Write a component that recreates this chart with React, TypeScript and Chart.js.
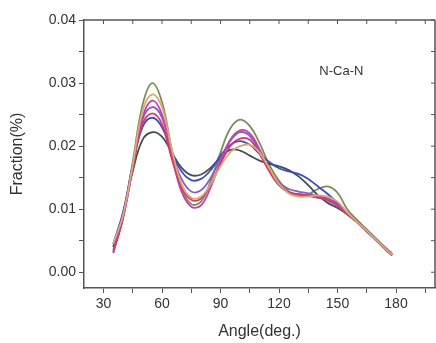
import React, { useEffect, useRef } from "react";
import { Chart, registerables } from "chart.js";

Chart.register(...registerables);

const angles = [35, 40, 45, 50, 55, 60, 65, 70, 75, 80, 85, 90, 95, 100, 105, 110, 115, 120, 125, 130, 135, 140, 145, 150, 155, 160, 165, 170, 175, 178];

const seriesOlive = [0.0040, 0.0090, 0.0175, 0.0265, 0.0300, 0.0270, 0.0195, 0.0135, 0.0108, 0.0112, 0.0145, 0.0190, 0.0228, 0.0242, 0.0232, 0.0205, 0.0170, 0.0145, 0.0128, 0.0122, 0.0124, 0.0132, 0.0136, 0.0126, 0.0100, 0.0083, 0.0068, 0.0053, 0.0038, 0.0030];
const seriesOrange = [0.0045, 0.0090, 0.0170, 0.0255, 0.0282, 0.0262, 0.0195, 0.0140, 0.0118, 0.0120, 0.0140, 0.0168, 0.0190, 0.0200, 0.0202, 0.0190, 0.0165, 0.0140, 0.0125, 0.0120, 0.0120, 0.0122, 0.0120, 0.0112, 0.0095, 0.0080, 0.0066, 0.0051, 0.0036, 0.0028];
const seriesMagenta = [0.0030, 0.0085, 0.0165, 0.0245, 0.0272, 0.0250, 0.0185, 0.0128, 0.0104, 0.0106, 0.0135, 0.0175, 0.0210, 0.0225, 0.0220, 0.0195, 0.0162, 0.0138, 0.0126, 0.0124, 0.0122, 0.0120, 0.0117, 0.0108, 0.0093, 0.0080, 0.0066, 0.0051, 0.0036, 0.0028];
const seriesPurple = [0.0035, 0.0088, 0.0168, 0.0242, 0.0262, 0.0245, 0.0190, 0.0148, 0.0128, 0.0130, 0.0150, 0.0180, 0.0208, 0.0222, 0.0216, 0.0192, 0.0163, 0.0142, 0.0132, 0.0128, 0.0125, 0.0120, 0.0114, 0.0105, 0.0092, 0.0080, 0.0066, 0.0051, 0.0036, 0.0028];
const seriesCrimson = [0.0032, 0.0086, 0.0165, 0.0235, 0.0252, 0.0235, 0.0180, 0.0135, 0.0115, 0.0117, 0.0140, 0.0172, 0.0200, 0.0212, 0.0210, 0.0188, 0.0160, 0.0138, 0.0127, 0.0124, 0.0121, 0.0118, 0.0115, 0.0106, 0.0092, 0.0079, 0.0065, 0.0050, 0.0035, 0.0027];
const seriesBlue = [0.0045, 0.0095, 0.0170, 0.0230, 0.0245, 0.0230, 0.0190, 0.0160, 0.0146, 0.0148, 0.0162, 0.0185, 0.0202, 0.0208, 0.0202, 0.0188, 0.0175, 0.0165, 0.0160, 0.0156, 0.0148, 0.0136, 0.0124, 0.0110, 0.0094, 0.0080, 0.0065, 0.0050, 0.0035, 0.0027];
const seriesSlate = [0.0040, 0.0092, 0.0160, 0.0210, 0.0222, 0.0215, 0.0190, 0.0166, 0.0154, 0.0155, 0.0166, 0.0182, 0.0194, 0.0193, 0.0185, 0.0177, 0.0172, 0.0168, 0.0162, 0.0152, 0.0138, 0.0122, 0.0110, 0.0102, 0.0092, 0.0080, 0.0065, 0.0050, 0.0035, 0.0027];

const seriesList = [
  { values: seriesOrange, color: "#d8aa74" },
  { values: seriesCrimson, color: "#d03c6c" },
  { values: seriesMagenta, color: "#c040b4" },
  { values: seriesPurple, color: "#8c5cc0" },
  { values: seriesBlue, color: "#3e4cbc" },
  { values: seriesSlate, color: "#434e54" },
  { values: seriesOlive, color: "#7e8b58" },
];

const xTickValues = [30, 45, 60, 75, 90, 105, 120, 135, 150, 165, 180, 195];
const yTickValues = [0, 0.005, 0.01, 0.015, 0.02, 0.025, 0.03, 0.035, 0.04];
const annotationText = "N-Ca-N";
const xTitle = "Angle(deg.)";
const yTitle = "Fraction(%)";

const AXIS = "#555";
const TEXT = "#333";
const FONT = "'Liberation Sans', Arial, sans-serif";

const framePlugin = {
  id: "frame",
  afterDraw(chart: any) {
    const { ctx, chartArea } = chart;
    const xs = chart.scales.x;
    const ys = chart.scales.y;
    ctx.save();
    ctx.strokeStyle = AXIS;
    ctx.lineWidth = 1.5;
    ctx.beginPath();
    ctx.moveTo(chartArea.left, chartArea.top);
    ctx.lineTo(chartArea.right, chartArea.top);
    ctx.moveTo(chartArea.right, chartArea.top);
    ctx.lineTo(chartArea.right, chartArea.bottom);
    ctx.stroke();
    ctx.lineWidth = 1;
    ctx.beginPath();
    xTickValues.forEach((v) => {
      const px = xs.getPixelForValue(v);
      ctx.moveTo(px, chartArea.top);
      ctx.lineTo(px, chartArea.top + 4);
    });
    yTickValues.forEach((v) => {
      const py = ys.getPixelForValue(v);
      ctx.moveTo(chartArea.right, py);
      ctx.lineTo(chartArea.right - 4, py);
    });
    ctx.stroke();
    ctx.fillStyle = TEXT;
    ctx.font = `13px ${FONT}`;
    ctx.textAlign = "center";
    ctx.textBaseline = "middle";
    ctx.fillText(annotationText, xs.getPixelForValue(152), ys.getPixelForValue(0.0319));
    ctx.restore();
  },
};

export default function App() {
  const ref = useRef<HTMLCanvasElement | null>(null);
  useEffect(() => {
    if (!ref.current) return;
    const chart = new Chart(ref.current, {
      type: "line",
      data: {
        datasets: seriesList.map((s) => ({
          data: angles.map((a, i) => ({ x: a, y: s.values[i] })),
          borderColor: s.color,
          borderWidth: 1.8,
          pointRadius: 0,
          tension: 0.4,
          fill: false,
        })),
      },
      options: {
        responsive: false,
        animation: false,
        layout: { padding: { top: 20, right: 1, left: 0, bottom: 0 } },
        plugins: { legend: { display: false }, tooltip: { enabled: false } },
        scales: {
          x: {
            type: "linear",
            min: 20,
            max: 200,
            afterFit: (s: any) => { s.height = 55; },
            afterBuildTicks: (s: any) => { s.ticks = xTickValues.map((v) => ({ value: v })); },
            border: { color: AXIS, width: 1.5 },
            grid: { drawOnChartArea: false, drawTicks: true, tickLength: 5, color: AXIS },
            ticks: {
              autoSkip: false,
              maxRotation: 0,
              padding: 3,
              color: TEXT,
              font: { family: FONT, size: 14 },
              callback: (v: any) => (Number(v) % 30 === 0 ? String(v) : ""),
            },
            title: { display: true, text: xTitle, color: TEXT, font: { family: FONT, size: 16 }, padding: { top: 2, bottom: 2 } },
          },
          y: {
            type: "linear",
            min: -0.0025,
            max: 0.04,
            afterFit: (s: any) => { s.width = 84; },
            afterBuildTicks: (s: any) => { s.ticks = yTickValues.map((v) => ({ value: v })); },
            border: { color: AXIS, width: 1.5 },
            grid: { drawOnChartArea: false, drawTicks: true, tickLength: 5, color: AXIS },
            ticks: {
              autoSkip: false,
              padding: 3,
              color: TEXT,
              font: { family: FONT, size: 14 },
              callback: (v: any) => {
                const n = Number(v) * 100;
                return Math.abs(n - Math.round(n)) < 1e-6 ? Number(v).toFixed(2) : "";
              },
            },
            title: { display: true, text: yTitle, color: TEXT, font: { family: FONT, size: 16 }, padding: { top: 8, bottom: 0 } },
          },
        },
      },
      plugins: [framePlugin],
    });
    return () => chart.destroy();
  }, []);
  return (
    <div style={{ position: "fixed", left: 0, top: 0, width: 436, height: 343, background: "#fff" }}>
      <canvas ref={ref} width={436} height={343} />
    </div>
  );
}
